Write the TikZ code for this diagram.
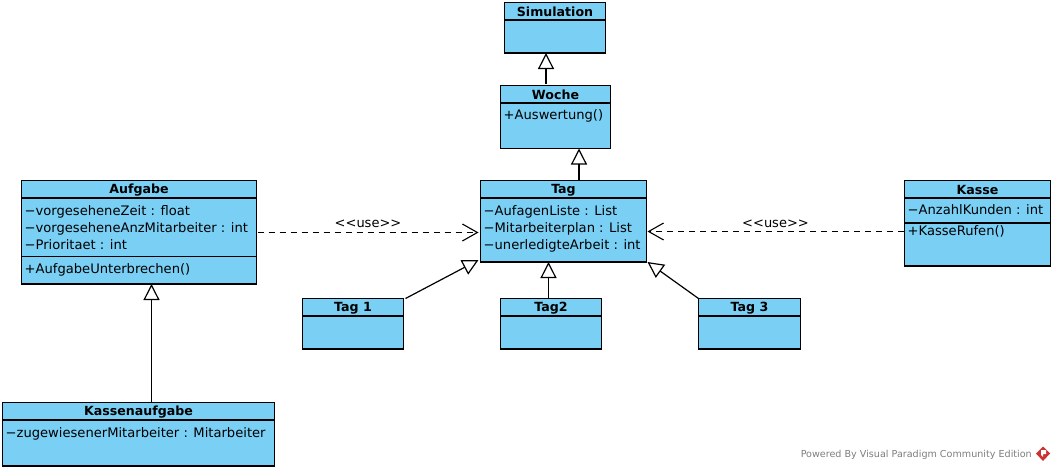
\documentclass[tikz,border=0pt]{standalone}
\usepackage{fontspec}
\setmainfont{DejaVu Sans}
\usetikzlibrary{arrows.meta, calc, positioning}
\definecolor{classblue}{RGB}{122,207,245}
\definecolor{footgray}{RGB}{125,125,125}
\definecolor{logored}{RGB}{205,50,50}
\tikzset{
    classbox/.style={draw=black, fill=classblue, line width=1.2pt, anchor=north west,
        inner sep=0pt, outer sep=0pt},
    classname/.style={font=\bfseries\fontsize{12.6}{15}\selectfont, anchor=center, inner sep=0pt, yshift=-9.8pt},
    members/.style={font=\fontsize{13.1}{17.3}\selectfont, align=left, anchor=north west, inner sep=0pt},
    rule/.style={line width=1.2pt},
    inherit/.style={line width=1.2pt, -{Triangle[open, length=16pt, width=16pt, fill=white]}},
    uses/.style={line width=1.1pt, dash pattern=on 6pt off 5pt,
        -{Straight Barb[length=15pt, width=17pt]}},
    stereo/.style={font=\fontsize{13}{15}\selectfont, inner sep=0pt}
}
\begin{document}
\begin{tikzpicture}[x=1pt, y=-1pt]
    \useasboundingbox (0,0) rectangle (1055,471);
    % classes
    \node[classbox, minimum width=101pt, minimum height=50.5pt] (simulation) at (504.5,2.5) {};
    \node[classbox, minimum width=110pt, minimum height=63pt] (woche) at (500.5,85.5) {};
    \node[classbox, minimum width=166pt, minimum height=81.5pt] (tag) at (480.5,180.5) {};
    \node[classbox, minimum width=235pt, minimum height=103.5pt] (aufgabe) at (21.5,180.5) {};
    \node[classbox, minimum width=272pt, minimum height=63.5pt] (kassenaufgabe) at (2.5,402.5) {};
    \node[classbox, minimum width=146pt, minimum height=85.5pt] (kasse) at (904.5,180.5) {};
    \node[classbox, minimum width=101pt, minimum height=50.5pt] (tagone) at (302.5,298.5) {};
    \node[classbox, minimum width=101pt, minimum height=50.5pt] (tagtwo) at (500.5,298.5) {};
    \node[classbox, minimum width=102pt, minimum height=50.5pt] (tagthree) at (698.5,298.5) {};
    \node[classname] (simulationname) at (simulation.north) {Simulation};
    \node[classname] (wochename) at (woche.north) {Woche};
    \node[classname] (tagname) at (tag.north) {Tag};
    \node[classname] (aufgabename) at (aufgabe.north) {Aufgabe};
    \node[classname] (kassenaufgabename) at (kassenaufgabe.north) {Kassenaufgabe};
    \node[classname] (kassename) at (kasse.north) {Kasse};
    \node[classname] (tagonename) at (tagone.north) {Tag 1};
    \node[classname] (tagtwoname) at (tagtwo.north) {Tag2};
    \node[classname] (tagthreename) at (tagthree.north) {Tag 3};
    % dividers
    \foreach \cls in {simulation, woche, tag, aufgabe, kassenaufgabe, kasse, tagone, tagtwo, tagthree}
        \draw[rule] ($(\cls.north west)+(0,17.5)$) -- ($(\cls.north east)+(0,17.5)$);
    \draw[rule] ($(aufgabe.north west)+(0,76)$) -- ($(aufgabe.north east)+(0,76)$);
    \draw[rule] ($(kasse.north west)+(0,42.5)$) -- ($(kasse.north east)+(0,42.5)$);
    % members
    \node[members] (wocheops) at ($(woche.north west)+(3,23.5)$) {+Auswertung()};
    \node[members] (tagattrs) at ($(tag.north west)+(3,24.5)$) {−AufagenListe : List\\−Mitarbeiterplan : List\\−unerledigteArbeit : int};
    \node[members] (aufgabeattrs) at ($(aufgabe.north west)+(3,24.5)$) {−vorgeseheneZeit : float\\−vorgeseheneAnzMitarbeiter : int\\−Prioritaet : int};
    \node[members] (aufgabeops) at ($(aufgabe.north west)+(3,82.5)$) {+AufgabeUnterbrechen()};
    \node[members] (kassenaufgabeattrs) at ($(kassenaufgabe.north west)+(3,24.5)$) {−zugewiesenerMitarbeiter : Mitarbeiter};
    \node[members] (kasseattrs) at ($(kasse.north west)+(3,24)$) {−AnzahlKunden : int};
    \node[members] (kasseops) at ($(kasse.north west)+(3,45)$) {+KasseRufen()};
    % generalizations
    \draw[inherit] ($(woche.north west)+(45.5,-2)$) -- ($(simulation.south west)+(41.5,0)$);
    \draw[inherit] ($(tag.north west)+(98.5,0)$) -- ($(woche.south west)+(78.5,0)$);
    \draw[inherit] ($(tagone.north east)+(2,0)$) -- ($(tag.south west)+(-2,-2)$);
    \draw[inherit] ($(tagtwo.north west)+(48,0)$) -- ($(tag.south west)+(68,0)$);
    \draw[inherit] (tagthree.north west) -- ($(tag.south east)+(1,0)$);
    \draw[inherit] ($(kassenaufgabe.north west)+(149,0)$) -- ($(aufgabe.south west)+(130,0)$);
    % dependencies
    \draw[uses] ($(aufgabe.north east)+(1,52)$) -- node[stereo, above=4pt] (useleft) {<{}<use>{}>} ($(tag.north west)+(-2,52)$);
    \draw[uses] ($(kasse.north west)+(-1,51)$) -- node[stereo, above=3pt, pos=.5] (useright) {<{}<use>{}>} ($(tag.north east)+(1,51)$);
    % footer
    \node[font=\fontsize{9.6}{12}\selectfont, text=footgray, anchor=east, inner sep=0pt] (powered) at (1032,454.5) {Powered By Visual Paradigm Community Edition};
    \fill[logored] (1043,446.5) -- (1050,453.5) -- (1043,461) -- (1036,453.5) -- cycle;
    \fill[white] (1041,450) -- (1046,450) -- (1046,454) -- (1043,454) -- (1043,457) -- (1041,455) -- cycle;
\end{tikzpicture}
\end{document}
